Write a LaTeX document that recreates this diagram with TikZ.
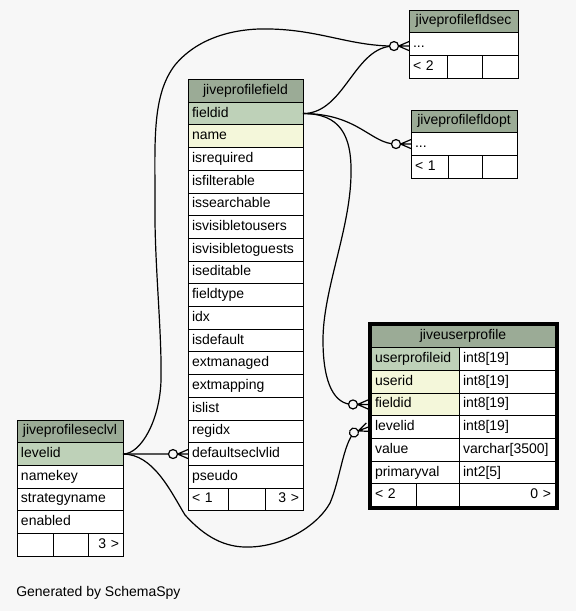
\documentclass[tikz,border=0pt]{standalone}
\usepackage{fontspec}
\newfontfamily\lsans{Liberation Sans}
\usetikzlibrary{calc}
\definecolor{bgc}{HTML}{F7F7F7}
\definecolor{hdr}{HTML}{9BAB96}
\definecolor{pkc}{HTML}{BED1B8}
\definecolor{fkc}{HTML}{F4F7DA}
\hyphenpenalty=10000
\exhyphenpenalty=10000
\newcommand\crowodot[2]{%
  \begin{scope}[shift={(#1)}, rotate=#2]
    \draw[edge] (-10.5,0) -- (0,-4.5) (-10.5,0) -- (0,0) (-10.5,0) -- (0,4.5);
    \draw[edge, fill=bgc] (-15,0) circle[radius=4.5];
  \end{scope}}
\begin{document}
\begin{tikzpicture}[x=0.75pt,y=-0.75pt,
  cell/.style={draw, line width=0.75pt, anchor=north west, outer sep=0pt,
    inner xsep=3pt, inner ysep=0pt, minimum height=17.025pt,
    text height=7.5pt, text depth=2.25pt, align=left, fill=white,
    font=\lsans\fontsize{10.5}{12}\selectfont},
  hd/.style={fill=hdr, align=center},
  pk/.style={fill=pkc},
  fk/.style={fill=fkc},
  rt/.style={align=right},
  edge/.style={line width=0.9pt, draw=black}]
\useasboundingbox (0,0) rectangle (576,611);
\fill[bgc] (0,0) rectangle (576,611);

% jiveprofilefield
\node[cell,hd,text width=80.25pt] (pf-head) at (188,79.5) {jiveprofilefield};
\node[cell,pk,text width=80.25pt] (pf-fieldid) at (188,102.2) {fieldid};
\node[cell,fk,text width=80.25pt] (pf-name) at (188,124.9) {name};
\foreach \t [count=\i from 3] in {isrequired,isfilterable,issearchable,isvisibletousers,isvisibletoguests,iseditable,fieldtype,idx,isdefault,extmanaged,extmapping,islist,regidx,defaultseclvlid,pseudo}
  \node[cell,text width=80.25pt] (pf-\t) at (188,{79.5+22.7*\i}) {\t};
\node[cell,text width=24pt] (pf-f1) at (188,488.1) {< 1};
\node[cell,text width=21.75pt] (pf-f2) at (228,488.1) {};
\node[cell,rt,text width=22.5pt] (pf-f3) at (265,488.1) {3 >};

% jiveprofilefldsec
\node[cell,hd,text width=75.75pt] (fs-head) at (409,10) {jiveprofilefldsec};
\node[cell,text width=75.75pt] (fs-dots) at (409,32.7) {...};
\node[cell,text width=22.5pt] (fs-f1) at (409,55.4) {< 2};
\node[cell,text width=20.25pt] (fs-f2) at (447,55.4) {};
\node[cell,text width=21pt] (fs-f3) at (482,55.4) {};

% jiveprofilefldopt
\node[cell,hd,text width=73.5pt] (fo-head) at (411,110) {jiveprofilefldopt};
\node[cell,text width=73.5pt] (fo-dots) at (411,132.7) {...};
\node[cell,text width=21.75pt] (fo-f1) at (411,155.4) {< 1};
\node[cell,text width=19.5pt] (fo-f2) at (448,155.4) {};
\node[cell,text width=20.25pt] (fo-f3) at (482,155.4) {};

% jiveuserprofile
\node[cell,hd,text width=132pt] (up-head) at (371,325) {jiveuserprofile};
\node[cell,pk,text width=60pt] (up-userprofileid) at (371,347.7) {userprofileid};
\node[cell,text width=66pt] (up-userprofileid-t) at (459,347.7) {int8[19]};
\node[cell,fk,text width=60pt] (up-userid) at (371,370.4) {userid};
\node[cell,text width=66pt] (up-userid-t) at (459,370.4) {int8[19]};
\node[cell,fk,text width=60pt] (up-fieldid) at (371,393.1) {fieldid};
\node[cell,text width=66pt] (up-fieldid-t) at (459,393.1) {int8[19]};
\node[cell,text width=60pt] (up-levelid) at (371,415.8) {levelid};
\node[cell,text width=66pt] (up-levelid-t) at (459,415.8) {int8[19]};
\node[cell,text width=60pt] (up-value) at (371,438.5) {value};
\node[cell,text width=66pt] (up-value-t) at (459,438.5) {varchar[3500]};
\node[cell,text width=60pt] (up-primaryval) at (371,461.2) {primaryval};
\node[cell,text width=66pt] (up-primaryval-t) at (459,461.2) {int2[5]};
\node[cell,text width=27.75pt] (up-f1) at (371,483.9) {< 2};
\node[cell,text width=26.25pt] (up-f2) at (416,483.9) {};
\node[cell,rt,text width=66pt] (up-f3) at (459,483.9) {0 >};
\draw[line width=2.25pt] (369,323) rectangle (557,508.3);

% jiveprofileseclvl
\node[cell,hd,text width=73.5pt] (sl-head) at (17,420) {jiveprofileseclvl};
\node[cell,pk,text width=73.5pt] (sl-levelid) at (17,442.7) {levelid};
\node[cell,text width=73.5pt] (sl-namekey) at (17,465.4) {namekey};
\node[cell,text width=73.5pt] (sl-strategyname) at (17,488.1) {strategyname};
\node[cell,text width=73.5pt] (sl-enabled) at (17,510.8) {enabled};
\node[cell,text width=21pt] (sl-f1) at (17,533.5) {};
\node[cell,text width=20.25pt] (sl-f2) at (53,533.5) {};
\node[cell,rt,text width=20.25pt] (sl-f3) at (88,533.5) {3 >};

\node[font=\lsans\fontsize{10.5}{12}\selectfont, anchor=base west, inner sep=0pt] (gen) at (16,596) {Generated by SchemaSpy};

% connector end points
\coordinate (t1) at ($(fs-dots.west)+(0,2)$);
\coordinate (c1) at ($(t1)+(-15,0)$);
\coordinate (t2) at (fo-dots.west);
\coordinate (c2) at ($(t2)+(-15,0)$);
\coordinate (t3) at ($(up-fieldid.west)+(-3,0)$);
\coordinate (c3) at ($(t3)+(-15,0)$);
\coordinate (t5) at (pf-defaultseclvlid.west);
\coordinate (c5) at ($(t5)+(-15,0)$);
\coordinate (t6) at ($(up-levelid.west)+(-3,0)$);
\coordinate (c6) at ($(t6)+(-14,5.4)$);

% connectors
\draw[edge] (pf-fieldid.east) .. controls +(42,0) and +(-40,0) .. (c1);
\draw[edge] (pf-fieldid.east) .. controls +(55,0) and +(-25,0) .. (c2);
\draw[edge] (pf-fieldid.east) .. controls +(37,0) and (352,135) .. (351,175)
  .. controls (350,230) and (323,290) .. (323,340)
  .. controls (323,385) and (335,404.5) .. (c3);
\draw[edge] (sl-levelid.east) .. controls +(18,0) and (160,420) .. (161,380)
  .. controls (162,330) and (154,260) .. (155,200)
  .. controls (155,140) and (152,95) .. (175,65)
  .. controls (200,35) and (240,28) .. (270,29)
  .. controls (320,30) and (350,46) .. (c1);
\draw[edge] (sl-levelid.east) -- (c5);
\draw[edge] (sl-levelid.east) .. controls +(30,0) and (170,490) .. (185,515)
  .. controls (205,537) and (225,548) .. (250,547)
  .. controls (285,546) and (318,525) .. (330,503)
  .. controls (340,480) and (343,445) .. (c6);

\crowodot{t1}{0}
\crowodot{t2}{0}
\crowodot{t3}{0}
\crowodot{t5}{0}
\crowodot{t6}{21}
\end{tikzpicture}
\end{document}
